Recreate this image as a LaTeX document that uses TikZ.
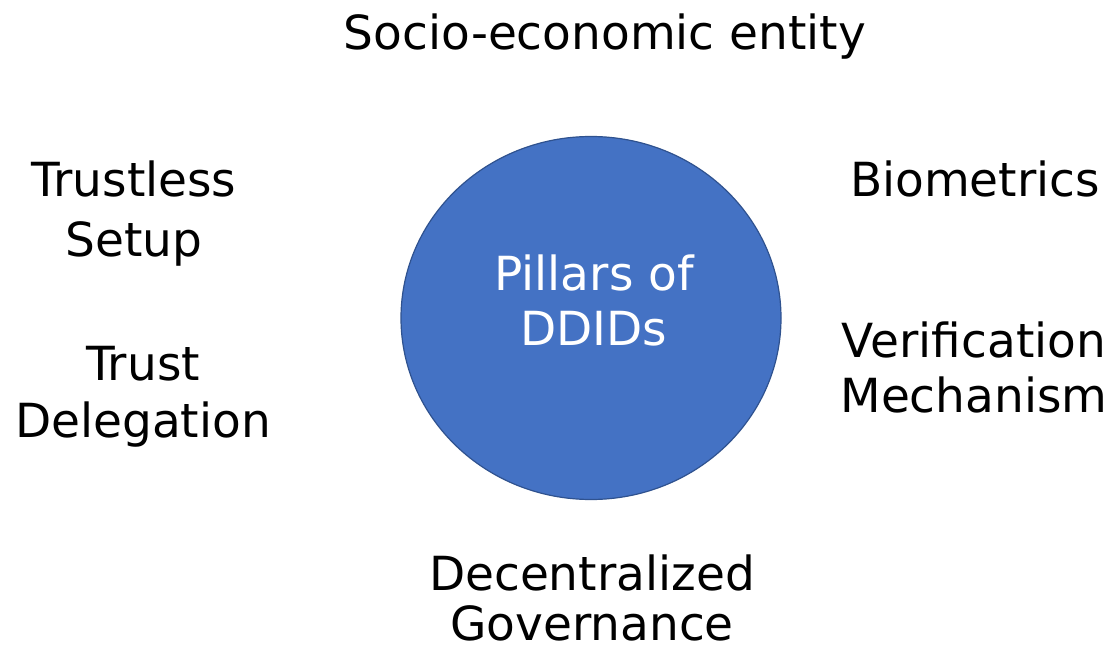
\documentclass[tikz,border=0pt]{standalone}
\usepackage{fontspec}
\usetikzlibrary{shapes.geometric}
\setmainfont{DejaVu Sans}
\definecolor{circfill}{HTML}{4472C4}
\definecolor{circdraw}{HTML}{2F528F}
\begin{document}
\begin{tikzpicture}[x=1pt,y=-1pt,
  lbl/.style={align=center,font=\fontsize{47}{57}\selectfont,inner sep=0pt,text=black,anchor=base},
  inlbl/.style={lbl,text=white}]
\useasboundingbox (0,0) rectangle (1119,652);
\node[draw=circdraw,line width=1.2pt,fill=circfill,ellipse,minimum width=380pt,minimum height=363pt,inner sep=0pt] (c) at (591,318) {};
\node[inlbl,font=\fontsize{47}{55}\selectfont] (p) at (594,345) {Pillars of\\DDIDs};
\node[lbl] (s) at (605,50) {Socio-economic entity};
\node[lbl,font=\fontsize{47}{60}\selectfont] (t) at (134,257) {Trustless\\Setup};
\node[lbl] (d) at (143,437) {Trust\\Delegation};
\node[lbl] (b) at (975,197) {Biometrics};
\node[lbl,font=\fontsize{47}{55}\selectfont] (v) at (974,412) {Verification\\Mechanism};
\node[lbl,font=\fontsize{47}{50}\selectfont] (g) at (592,640) {Decentralized\\Governance};
\end{tikzpicture}
\end{document}
